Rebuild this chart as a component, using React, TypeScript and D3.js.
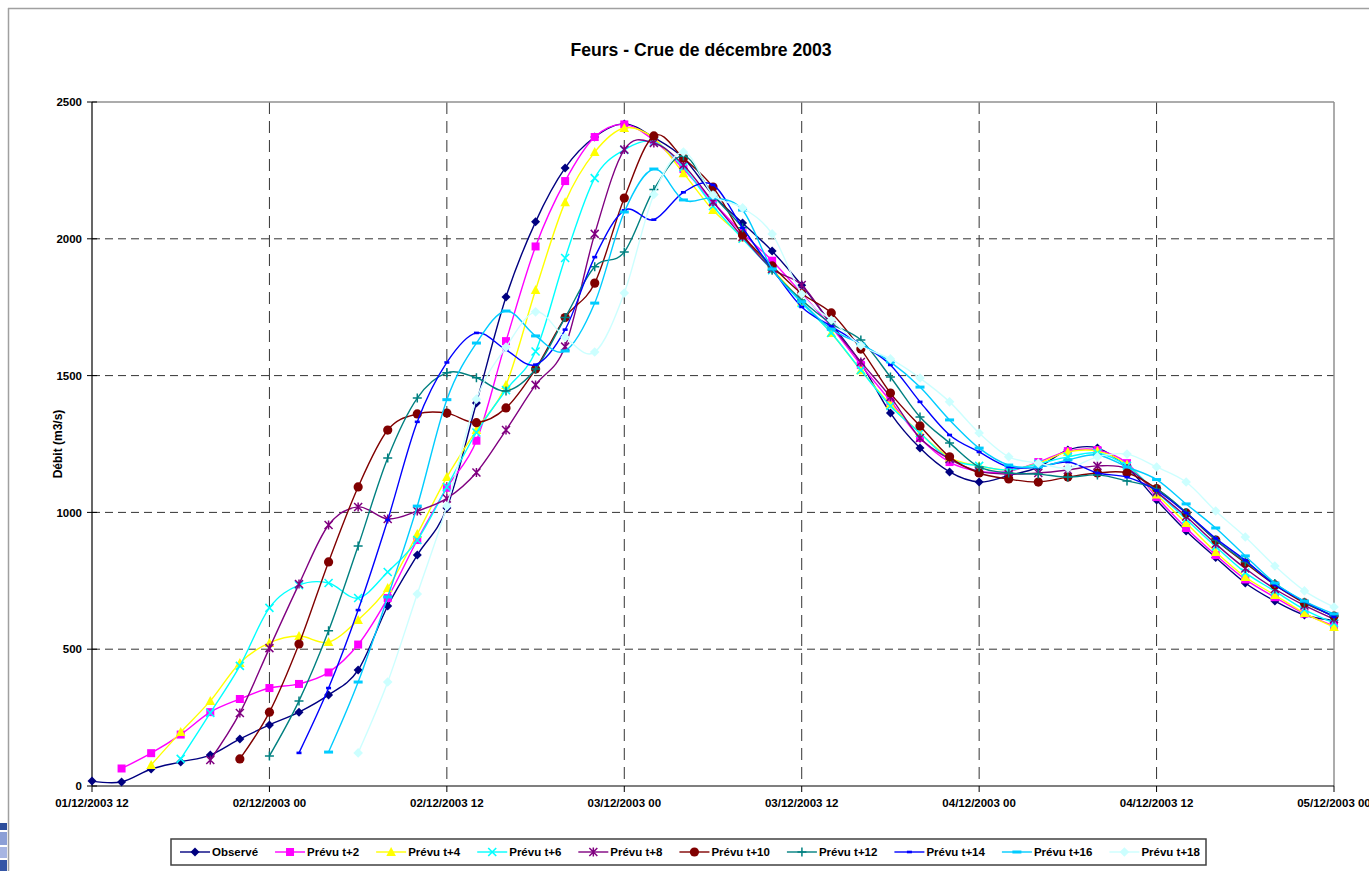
import React from "react";
import * as d3 from "d3";

const X_LABELS = [
  "01/12/2003 12", "02/12/2003 00", "02/12/2003 12", "03/12/2003 00",
  "03/12/2003 12", "04/12/2003 00", "04/12/2003 12", "05/12/2003 00",
];
const Y_TICKS = [0, 500, 1000, 1500, 2000, 2500];
const STEP_HOURS = 2;
const TOTAL_HOURS = 84;

const observe = [18, 15, 62, 88, 113, 172, 223, 270, 333, 424, 658, 844, 1016, 1400, 1787, 2062, 2259, 2372, 2420, 2370, 2295, 2160, 2058, 1955, 1830, 1690, 1546, 1363, 1235, 1148, 1111, 1135, 1165, 1228, 1235, 1165, 1045, 932, 835, 742, 676, 625, 605];
const prevu2 = [64, 120, 188, 270, 318, 358, 373, 415, 517, 687, 899, 1090, 1262, 1626, 1972, 2211, 2372, 2418, 2360, 2255, 2135, 2021, 1920, 1800, 1678, 1539, 1407, 1272, 1184, 1150, 1150, 1184, 1224, 1228, 1180, 1056, 943, 844, 755, 690, 630, 585];
const prevu4 = [77, 197, 311, 450, 523, 548, 526, 607, 724, 921, 1129, 1301, 1466, 1813, 2134, 2317, 2405, 2368, 2240, 2105, 2005, 1890, 1770, 1656, 1520, 1395, 1290, 1200, 1170, 1155, 1180, 1221, 1224, 1175, 1065, 961, 855, 764, 698, 632, 581];
const prevu6 = [99, 267, 439, 651, 734, 742, 687, 782, 899, 1093, 1292, 1447, 1588, 1930, 2222, 2325, 2354, 2262, 2120, 2000, 1885, 1765, 1656, 1520, 1389, 1290, 1195, 1170, 1155, 1178, 1203, 1217, 1170, 1075, 975, 875, 780, 712, 645, 596];
const prevu8 = [95, 267, 504, 738, 954, 1020, 976, 1005, 1051, 1146, 1301, 1466, 1606, 2018, 2326, 2350, 2270, 2135, 2007, 1890, 1831, 1685, 1550, 1422, 1272, 1195, 1150, 1140, 1144, 1155, 1170, 1160, 1075, 985, 885, 795, 720, 660, 610];
const prevu10 = [99, 270, 519, 819, 1093, 1301, 1360, 1363, 1328, 1382, 1524, 1712, 1838, 2149, 2376, 2295, 2189, 2014, 1901, 1800, 1729, 1597, 1436, 1316, 1203, 1144, 1122, 1111, 1129, 1144, 1144, 1087, 998, 899, 815, 735, 669, 621];
const prevu12 = [110, 311, 567, 877, 1199, 1418, 1510, 1492, 1444, 1524, 1712, 1898, 1952, 2180, 2303, 2160, 2040, 1885, 1776, 1690, 1630, 1495, 1349, 1254, 1166, 1144, 1140, 1129, 1137, 1115, 1085, 1000, 899, 820, 740, 672, 620];
const prevu14 = [121, 358, 643, 972, 1331, 1548, 1656, 1594, 1540, 1668, 1933, 2104, 2070, 2170, 2197, 2040, 1890, 1751, 1680, 1615, 1539, 1404, 1283, 1221, 1166, 1166, 1184, 1144, 1129, 1080, 998, 905, 825, 735, 675, 618];
const prevu16 = [124, 380, 691, 1023, 1412, 1619, 1736, 1645, 1590, 1765, 2098, 2255, 2142, 2149, 2105, 1890, 1770, 1670, 1615, 1550, 1458, 1338, 1235, 1173, 1166, 1192, 1210, 1166, 1120, 1031, 943, 841, 742, 676, 629];
const prevu18 = [121, 380, 702, 1023, 1414, 1604, 1733, 1640, 1586, 1802, 2162, 2317, 2160, 2113, 2018, 1798, 1703, 1610, 1561, 1491, 1404, 1290, 1203, 1180, 1162, 1203, 1213, 1166, 1111, 1005, 910, 804, 713, 654];

type Marker = "diamond" | "square" | "triangle" | "x" | "star" | "circle" | "plus" | "dash" | "bar" | "ldiamond";

const SERIES: { name: string; color: string; marker: Marker; start: number; values: number[] }[] = [
  { name: "Observé", color: "#000080", marker: "diamond", start: 0, values: observe },
  { name: "Prévu t+2", color: "#FF00FF", marker: "square", start: 1, values: prevu2 },
  { name: "Prévu t+4", color: "#FFFF00", marker: "triangle", start: 2, values: prevu4 },
  { name: "Prévu t+6", color: "#00FFFF", marker: "x", start: 3, values: prevu6 },
  { name: "Prévu t+8", color: "#800080", marker: "star", start: 4, values: prevu8 },
  { name: "Prévu t+10", color: "#800000", marker: "circle", start: 5, values: prevu10 },
  { name: "Prévu t+12", color: "#008080", marker: "plus", start: 6, values: prevu12 },
  { name: "Prévu t+14", color: "#0000FF", marker: "dash", start: 7, values: prevu14 },
  { name: "Prévu t+16", color: "#00CCFF", marker: "bar", start: 8, values: prevu16 },
  { name: "Prévu t+18", color: "#CCFFFF", marker: "ldiamond", start: 9, values: prevu18 },
];

const FONT = '"Liberation Sans", Arial, sans-serif';

function MarkerShape({ type, color, x, y }: { type: Marker; color: string; x: number; y: number }) {
  switch (type) {
    case "diamond":
      return <path d={`M${x},${y - 4.5}L${x + 4.5},${y}L${x},${y + 4.5}L${x - 4.5},${y}Z`} fill={color} />;
    case "ldiamond":
      return <path d={`M${x},${y - 4.8}L${x + 4.8},${y}L${x},${y + 4.8}L${x - 4.8},${y}Z`} fill={color} />;
    case "square":
      return <rect x={x - 4} y={y - 4} width={8} height={8} fill={color} />;
    case "triangle":
      return <path d={`M${x},${y - 5}L${x + 4.8},${y + 4}L${x - 4.8},${y + 4}Z`} fill={color} />;
    case "x":
      return <path d={`M${x - 4},${y - 4}L${x + 4},${y + 4}M${x - 4},${y + 4}L${x + 4},${y - 4}`} stroke={color} strokeWidth={1.6} />;
    case "star":
      return <path d={`M${x - 4},${y - 4}L${x + 4},${y + 4}M${x - 4},${y + 4}L${x + 4},${y - 4}M${x},${y - 4.5}L${x},${y + 4.5}`} stroke={color} strokeWidth={1.5} />;
    case "circle":
      return <circle cx={x} cy={y} r={4.6} fill={color} />;
    case "plus":
      return <path d={`M${x - 4.5},${y}L${x + 4.5},${y}M${x},${y - 4.5}L${x},${y + 4.5}`} stroke={color} strokeWidth={1.5} />;
    case "dash":
      return <rect x={x - 2.5} y={y - 1.3} width={5} height={2.6} fill={color} />;
    case "bar":
      return <rect x={x - 4.5} y={y - 1.5} width={9} height={3} fill={color} />;
  }
  return null;
}

export default function App() {
  const left = 92, right = 1334, top = 102, bottom = 786;
  const x = d3.scaleLinear().domain([0, TOTAL_HOURS]).range([left, right]);
  const y = d3.scaleLinear().domain([0, 2500]).range([bottom, top]);
  const line = d3
    .line<[number, number]>()
    .x((d) => x(d[0]))
    .y((d) => y(d[1]))
    .curve(d3.curveCardinal.tension(0));

  const xTicks = X_LABELS.map((_, i) => i * 12);

  let measure = (s: string) => s.length * 6.2;
  if (typeof document !== "undefined") {
    const ctx = document.createElement("canvas").getContext("2d");
    if (ctx) {
      ctx.font = `bold 11.5px ${FONT}`;
      measure = (s: string) => ctx.measureText(s).width;
    }
  }
  const legendY = 852;
  let lx = 180;
  const legendItems = SERIES.map((s) => {
    const item = { s, x: lx };
    lx += 32 + measure(s.name) + 17;
    return item;
  });

  return (
    <svg
      width={1369}
      height={871}
      style={{ position: "absolute", left: 0, top: 0, background: "#fff" }}
      fontFamily={FONT}
    >
      <rect x={0} y={0} width={1369} height={871} fill="#fff" />
      {/* outer frame */}
      <line x1={8} y1={8.5} x2={1369} y2={8.5} stroke="#a0a0a0" strokeWidth={1.5} />
      <line x1={8.5} y1={8} x2={8.5} y2={871} stroke="#a0a0a0" strokeWidth={1.5} />
      {/* left artifact */}
      <rect x={0} y={823} width={7} height={7} fill="#2d4e9c" />
      <rect x={0} y={832} width={7} height={13} fill="#8c9fd6" />
      <rect x={0} y={847} width={7} height={11} fill="#a7b5e2" />
      <rect x={0} y={860} width={7} height={11} fill="#3556a6" />

      <text x={701} y={56} textAnchor="middle" fontSize={17.6} fontWeight="bold">
        Feurs - Crue de décembre 2003
      </text>

      {/* gridlines */}
      {Y_TICKS.filter((t) => t > 0 && t < 2500).map((t) => (
        <line key={t} x1={left} x2={right} y1={y(t)} y2={y(t)} stroke="#333" strokeWidth={1} strokeDasharray="8,5" />
      ))}
      {xTicks.filter((h) => h > 0 && h < TOTAL_HOURS).map((h) => (
        <line key={h} x1={x(h)} x2={x(h)} y1={top} y2={bottom} stroke="#333" strokeWidth={1} strokeDasharray="12,7" />
      ))}
      {/* plot border */}
      <line x1={left} x2={right} y1={top} y2={top} stroke="#909090" strokeWidth={1.5} />
      <line x1={right} x2={right} y1={top} y2={bottom} stroke="#909090" strokeWidth={1.5} />
      <line x1={left} x2={left} y1={top} y2={bottom} stroke="#000" strokeWidth={1.2} />
      <line x1={left} x2={right} y1={bottom} y2={bottom} stroke="#000" strokeWidth={1.2} />

      {/* y ticks */}
      {Y_TICKS.map((t) => (
        <g key={t}>
          <line x1={87} x2={97} y1={y(t)} y2={y(t)} stroke="#000" strokeWidth={1} />
          <text x={82} y={y(t)} dy="0.36em" textAnchor="end" fontSize={11.5} fontWeight="bold">
            {t}
          </text>
        </g>
      ))}
      {/* x ticks */}
      {xTicks.map((h, i) => (
        <g key={h}>
          <line x1={x(h)} x2={x(h)} y1={bottom} y2={bottom + 6} stroke="#000" strokeWidth={1} />
          <text x={x(h)} y={807} textAnchor="middle" fontSize={11.5} fontWeight="bold">
            {X_LABELS[i]}
          </text>
        </g>
      ))}
      <text
        transform={`translate(62,${(top + bottom) / 2}) rotate(-90)`}
        textAnchor="middle"
        fontSize={12}
        fontWeight="bold"
      >
        Débit (m3/s)
      </text>

      {/* series */}
      {SERIES.map((s) => {
        const pts: [number, number][] = s.values.map((v, i) => [(s.start + i) * STEP_HOURS, v]);
        return (
          <g key={s.name}>
            <path d={line(pts) || ""} fill="none" stroke={s.color} strokeWidth={1.4} />
            {pts.map((p, i) => (
              <MarkerShape key={i} type={s.marker} color={s.color} x={x(p[0])} y={y(p[1])} />
            ))}
          </g>
        );
      })}

      {/* legend */}
      <rect x={171} y={839} width={1035} height={26} fill="#fff" stroke="#404040" strokeWidth={1.5} />
      {legendItems.map(({ s, x: ix }) => (
        <g key={s.name}>
          <line x1={ix} x2={ix + 30} y1={legendY} y2={legendY} stroke={s.color} strokeWidth={1.4} />
          <MarkerShape type={s.marker} color={s.color} x={ix + 15} y={legendY} />
          <text x={ix + 32} y={legendY} dy="0.36em" fontSize={11.5} fontWeight="bold">
            {s.name}
          </text>
        </g>
      ))}
    </svg>
  );
}
